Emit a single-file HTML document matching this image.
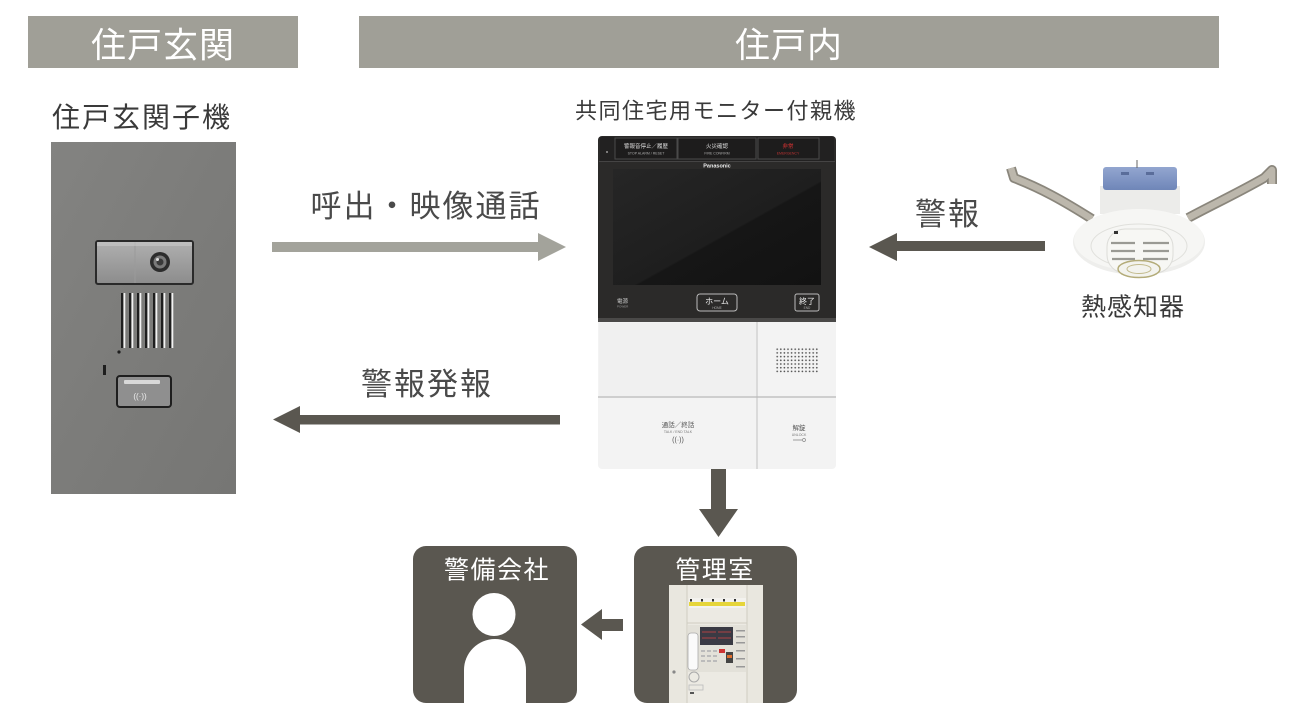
<!DOCTYPE html>
<html><head><meta charset="utf-8">
<style>
html,body{margin:0;padding:0;background:#fff;width:1300px;height:720px;overflow:hidden;}
svg{display:block}
text{font-family:"Liberation Sans","Noto Sans CJK JP",sans-serif;}
</style></head><body>
<svg width="1300" height="720" viewBox="0 0 1300 720" xmlns="http://www.w3.org/2000/svg">
<defs>
  <linearGradient id="gPanel" x1="0" y1="0" x2="1" y2="1">
    <stop offset="0" stop-color="#838381"/>
    <stop offset="0.5" stop-color="#7c7c7a"/>
    <stop offset="1" stop-color="#767674"/>
  </linearGradient>
  <linearGradient id="gScreen" x1="0" y1="0" x2="1" y2="1">
    <stop offset="0" stop-color="#262626"/>
    <stop offset="0.55" stop-color="#1e1e1e"/>
    <stop offset="0.56" stop-color="#161616"/>
    <stop offset="1" stop-color="#121212"/>
  </linearGradient>
  <linearGradient id="gPlate" x1="0" y1="0" x2="0" y2="1">
    <stop offset="0" stop-color="#b0b0b0"/>
    <stop offset="1" stop-color="#8c8c8c"/>
  </linearGradient>
  <linearGradient id="gBlue" x1="0" y1="0" x2="0" y2="1">
    <stop offset="0" stop-color="#93a6d0"/>
    <stop offset="1" stop-color="#6f86b8"/>
  </linearGradient>
  <pattern id="dots" x="776" y="348" width="3.6" height="3.7" patternUnits="userSpaceOnUse">
    <circle cx="1.2" cy="1.2" r="0.85" fill="#555"/>
  </pattern>
</defs>

<!-- Headers -->
<rect x="28" y="16" width="270" height="52" fill="#a09f97"/>
<rect x="359" y="16" width="860" height="52" fill="#a09f97"/>
<text x="163" y="57.5" font-size="35" fill="#fff" text-anchor="middle" letter-spacing="1">住戸玄関</text>
<text x="789" y="57.5" font-size="35" fill="#fff" text-anchor="middle" letter-spacing="1">住戸内</text>

<!-- Labels -->
<text x="142" y="127" font-size="28" fill="#3a3a3a" text-anchor="middle" letter-spacing="2">住戸玄関子機</text>
<text x="716" y="118.5" font-size="22" fill="#3a3a3a" text-anchor="middle" letter-spacing="1.5">共同住宅用モニター付親機</text>
<text x="426" y="217" font-size="31" fill="#4a4a4a" text-anchor="middle" letter-spacing="2">呼出・映像通話</text>
<text x="427" y="395" font-size="31" fill="#4a4a4a" text-anchor="middle" letter-spacing="2">警報発報</text>
<text x="948" y="225" font-size="31" fill="#4a4a4a" text-anchor="middle" letter-spacing="2">警報</text>
<text x="1133" y="315.5" font-size="25" fill="#3a3a3a" text-anchor="middle" letter-spacing="1">熱感知器</text>

<!-- Door intercom panel -->
<rect x="51" y="142" width="185" height="352" fill="url(#gPanel)"/>
<rect x="96" y="241" width="97" height="43" rx="2" fill="url(#gPlate)" stroke="#2a2a2a" stroke-width="2"/>
<line x1="135" y1="242" x2="135" y2="283" stroke="#9a9a9a" stroke-width="1"/>
<rect x="97" y="242" width="95" height="4" fill="#c8c8c8" opacity="0.6"/>
<circle cx="160" cy="262" r="10" fill="#2c2c2c"/>
<circle cx="160" cy="262" r="6.5" fill="#7a7a7a"/>
<circle cx="160" cy="262" r="3.5" fill="#3a3a3a"/>
<circle cx="157.5" cy="259.5" r="1.5" fill="#ddd"/>
<g stroke-width="2">
  <line x1="122" y1="293" x2="122" y2="348" stroke="#1e1e1e"/>
  <line x1="130" y1="293" x2="130" y2="348" stroke="#1e1e1e"/>
  <line x1="138" y1="293" x2="138" y2="348" stroke="#1e1e1e"/>
  <line x1="146" y1="293" x2="146" y2="348" stroke="#1e1e1e"/>
  <line x1="154" y1="293" x2="154" y2="348" stroke="#1e1e1e"/>
  <line x1="162" y1="293" x2="162" y2="348" stroke="#1e1e1e"/>
  <line x1="170" y1="293" x2="170" y2="348" stroke="#1e1e1e"/>
</g>
<g stroke-width="1.6" stroke="#f2f2f2">
  <line x1="124.5" y1="293" x2="124.5" y2="348"/>
  <line x1="132.5" y1="293" x2="132.5" y2="348"/>
  <line x1="140.5" y1="293" x2="140.5" y2="348"/>
  <line x1="148.5" y1="293" x2="148.5" y2="348"/>
  <line x1="156.5" y1="293" x2="156.5" y2="348"/>
  <line x1="164.5" y1="293" x2="164.5" y2="348"/>
  <line x1="172.5" y1="293" x2="172.5" y2="348"/>
</g>
<circle cx="119" cy="352" r="1.6" fill="#1e1e1e"/>
<rect x="103" y="365" width="3" height="10" fill="#1e1e1e"/>
<rect x="117" y="376" width="54" height="31" rx="3" fill="#8f8f8f" stroke="#1e1e1e" stroke-width="2"/>
<rect x="124" y="380" width="36" height="4" rx="1" fill="#d8d8d8"/>
<text x="140" y="399" font-size="8" fill="#eee" text-anchor="middle">((·))</text>

<!-- Monitor -->
<rect x="598" y="136" width="238" height="186" rx="4" fill="#2b2a29"/>
<rect x="600" y="137" width="234" height="24" fill="#222121"/>
<rect x="615" y="138" width="62" height="21" fill="#1d1c1c" stroke="#4a4a4a" stroke-width="1"/>
<rect x="678" y="138" width="78" height="21" fill="#1d1c1c" stroke="#4a4a4a" stroke-width="1"/>
<rect x="758" y="138" width="61" height="21" fill="#1d1c1c" stroke="#4a4a4a" stroke-width="1"/>
<circle cx="607" cy="152" r="1" fill="#999"/>
<text x="646" y="148" font-size="5.5" fill="#ddd" text-anchor="middle">警報音停止／履歴</text>
<text x="646" y="154.5" font-size="3.5" fill="#aaa" text-anchor="middle">STOP ALARM / RESET</text>
<text x="717" y="148" font-size="5.5" fill="#ddd" text-anchor="middle">火災確認</text>
<text x="717" y="154.5" font-size="3.5" fill="#aaa" text-anchor="middle">FIRE CONFIRM</text>
<text x="788" y="148" font-size="5.5" fill="#d33" text-anchor="middle">非常</text>
<text x="788" y="154.5" font-size="3.5" fill="#b33" text-anchor="middle">EMERGENCY</text>
<line x1="599" y1="161.5" x2="835" y2="161.5" stroke="#454444" stroke-width="1"/>
<text x="717" y="167.5" font-size="5.5" font-weight="bold" fill="#eee" text-anchor="middle">Panasonic</text>
<rect x="613" y="169" width="208" height="116" fill="url(#gScreen)"/>
<text x="617" y="303" font-size="5.5" fill="#ccc">電源</text>
<text x="617" y="307.5" font-size="3" fill="#999">POWER</text>
<rect x="697" y="294" width="40" height="17" rx="3" fill="none" stroke="#bbb" stroke-width="1"/>
<text x="717" y="304" font-size="8" fill="#eee" text-anchor="middle">ホーム</text>
<text x="717" y="309" font-size="3.2" fill="#aaa" text-anchor="middle">HOME</text>
<rect x="795" y="294" width="24" height="17" rx="2" fill="none" stroke="#bbb" stroke-width="1"/>
<text x="807" y="304" font-size="8" fill="#eee" text-anchor="middle">終了</text>
<text x="807" y="309" font-size="3.2" fill="#aaa" text-anchor="middle">END</text>
<rect x="598" y="318" width="238" height="4" fill="#4a4948"/>

<path d="M598,322 H836 V465 A4,4 0 0 1 832,469 H602 A4,4 0 0 1 598,465 Z" fill="#f3f3f3"/>
<rect x="599" y="323" width="157" height="73" fill="#f0f0f0"/>
<line x1="757" y1="322" x2="757" y2="469" stroke="#c2c2c2" stroke-width="1"/>
<line x1="598" y1="397" x2="836" y2="397" stroke="#b8b8b8" stroke-width="1.2"/>
<rect x="776" y="348" width="43" height="26" fill="url(#dots)"/>
<text x="678" y="427" font-size="6.5" fill="#555" text-anchor="middle">通話／終話</text>
<text x="678" y="433" font-size="3.5" fill="#777" text-anchor="middle">TALK / END TALK</text>
<text x="678" y="442" font-size="7" fill="#555" text-anchor="middle">((·))</text>
<text x="799" y="430" font-size="6.5" fill="#555" text-anchor="middle">解錠</text>
<text x="799" y="436" font-size="3.5" fill="#777" text-anchor="middle">UNLOCK</text>
<line x1="793" y1="440" x2="802" y2="440" stroke="#888" stroke-width="0.8"/>
<circle cx="804" cy="440" r="1.5" fill="none" stroke="#888" stroke-width="0.7"/>

<!-- Heat detector -->
<path d="M1011,168 L1014,178 C1040,188 1062,200 1092,219" fill="none" stroke="#8a867c" stroke-width="10" stroke-linejoin="round"/>
<path d="M1011,168 L1014,178 C1040,188 1062,200 1092,219" fill="none" stroke="#bcb7ac" stroke-width="6.5" stroke-linejoin="round"/>
<path d="M1188,218 C1210,206 1236,194 1264,178 L1272,170 L1272,184" fill="none" stroke="#8a867c" stroke-width="10" stroke-linejoin="round"/>
<path d="M1188,218 C1210,206 1236,194 1264,178 L1272,170 L1272,184" fill="none" stroke="#bcb7ac" stroke-width="6.5" stroke-linejoin="round"/>
<rect x="1100" y="186" width="80" height="28" fill="#ececea"/>
<rect x="1103" y="167" width="74" height="23" rx="3" fill="url(#gBlue)"/>
<rect x="1121" y="172" width="8" height="3" fill="#5a6d9a"/>
<rect x="1146" y="172" width="8" height="3" fill="#5a6d9a"/>
<line x1="1137" y1="160" x2="1137" y2="168" stroke="#666" stroke-width="1"/>
<ellipse cx="1139" cy="242" rx="66" ry="33" fill="#eeeeec"/>
<ellipse cx="1139" cy="240" rx="65" ry="31" fill="#f6f6f4"/>
<ellipse cx="1139" cy="246" rx="48" ry="22" fill="none" stroke="#e0e0dc" stroke-width="1"/>
<rect x="1107" y="229" width="66" height="44" rx="18" fill="#f7f7f4" stroke="#dcdcd8" stroke-width="1"/>
<g stroke="#9a9a94" stroke-width="2.2">
  <line x1="1111" y1="243" x2="1135" y2="243"/><line x1="1143" y1="243" x2="1169" y2="243"/>
  <line x1="1111" y1="251" x2="1135" y2="251"/><line x1="1143" y1="251" x2="1169" y2="251"/>
  <line x1="1112" y1="259" x2="1135" y2="259"/><line x1="1143" y1="259" x2="1168" y2="259"/>
</g>
<rect x="1114" y="231" width="4" height="3" fill="#333"/>
<ellipse cx="1139" cy="269" rx="21" ry="8.5" fill="#f3f3ee" stroke="#b3ab78" stroke-width="1.5"/>
<ellipse cx="1139" cy="269" rx="12" ry="4.5" fill="none" stroke="#c2ba8c" stroke-width="1"/>

<!-- Arrows -->
<rect x="272" y="242" width="267" height="10" fill="#a3a39b"/>
<polygon points="538,233 566,247 538,261" fill="#a3a39b"/>
<rect x="299" y="415" width="261" height="9.5" fill="#5a5750"/>
<polygon points="273,419.5 300,406 300,433" fill="#5a5750"/>
<rect x="896" y="241" width="149" height="10" fill="#5a5750"/>
<polygon points="869,247 897,233 897,261" fill="#5a5750"/>
<rect x="711" y="469" width="15" height="41" fill="#5a5750"/>
<polygon points="699,509 738,509 718.5,537" fill="#5a5750"/>
<rect x="601" y="619" width="22" height="12" fill="#5a5750"/>
<polygon points="581,624.5 602,609 602,640" fill="#5a5750"/>

<!-- Security company box -->
<rect x="413" y="546" width="164" height="157" rx="13" fill="#5a5750"/>
<text x="497" y="578.5" font-size="25" fill="#fff" text-anchor="middle" letter-spacing="1.5">警備会社</text>
<circle cx="494" cy="614.5" r="21.5" fill="#fff"/>
<path d="M464,703 L464,670 A31,31 0 0 1 526,670 L526,703 Z" fill="#fff"/>

<!-- Management office box -->
<rect x="634" y="546" width="163" height="157" rx="13" fill="#5a5750"/>
<text x="715" y="578.5" font-size="25" fill="#fff" text-anchor="middle" letter-spacing="1.5">管理室</text>
<rect x="669" y="585" width="94" height="118" fill="#e9e7df"/>
<rect x="687" y="585" width="60" height="118" fill="#eceae3"/>
<line x1="687" y1="585" x2="687" y2="703" stroke="#cfccc2" stroke-width="1"/>
<line x1="747" y1="585" x2="747" y2="703" stroke="#cfccc2" stroke-width="1"/>
<rect x="689" y="598" width="57" height="10" fill="#f3f2ee"/>
<rect x="689" y="602" width="56" height="4" fill="#e6d53a"/>
<g fill="#333">
  <rect x="690" y="599" width="2" height="2.5"/><rect x="701" y="599" width="2" height="2.5"/>
  <rect x="712" y="599" width="2" height="2.5"/><rect x="723" y="599" width="2" height="2.5"/>
  <rect x="734" y="599" width="2" height="2.5"/>
</g>
<line x1="687" y1="623" x2="747" y2="623" stroke="#cfccc2" stroke-width="1"/>
<rect x="688" y="625" width="58" height="47" fill="#e3e1d9"/>
<rect x="700" y="627" width="33" height="18" fill="#3a3a44"/>
<g stroke="#c44" stroke-width="0.8">
  <line x1="702" y1="632" x2="716" y2="632"/><line x1="718" y1="632" x2="731" y2="632"/>
  <line x1="702" y1="638" x2="716" y2="638"/><line x1="718" y1="638" x2="731" y2="638"/>
</g>
<rect x="688" y="633" width="10" height="37" rx="3" fill="#fafafa" stroke="#aaa" stroke-width="0.8"/>
<g fill="#bbb">
  <rect x="701" y="650" width="4" height="2"/><rect x="707" y="650" width="4" height="2"/><rect x="713" y="650" width="4" height="2"/>
  <rect x="701" y="655" width="4" height="2"/><rect x="707" y="655" width="4" height="2"/><rect x="713" y="655" width="4" height="2"/>
  <rect x="701" y="660" width="4" height="2"/><rect x="707" y="660" width="4" height="2"/><rect x="713" y="660" width="4" height="2"/>
</g>
<rect x="719" y="649" width="6" height="4" fill="#c33"/>
<rect x="726" y="652" width="7" height="11" fill="#444"/>
<rect x="727" y="655" width="5" height="3" fill="#e07030"/>
<g fill="#999">
  <rect x="736" y="630" width="9" height="1.5"/><rect x="736" y="636" width="9" height="1.5"/>
  <rect x="736" y="642" width="9" height="1.5"/><rect x="736" y="650" width="9" height="1.5"/>
  <rect x="736" y="658" width="9" height="1.5"/><rect x="736" y="666" width="9" height="1.5"/>
</g>
<circle cx="674" cy="672" r="1.6" fill="#888"/>
<circle cx="694" cy="677" r="5" fill="none" stroke="#aaa" stroke-width="1"/>
<rect x="689" y="685" width="14" height="5" fill="none" stroke="#bbb" stroke-width="0.8"/>
<rect x="690" y="692" width="4" height="2" fill="#555"/>
</svg>
</body></html>
